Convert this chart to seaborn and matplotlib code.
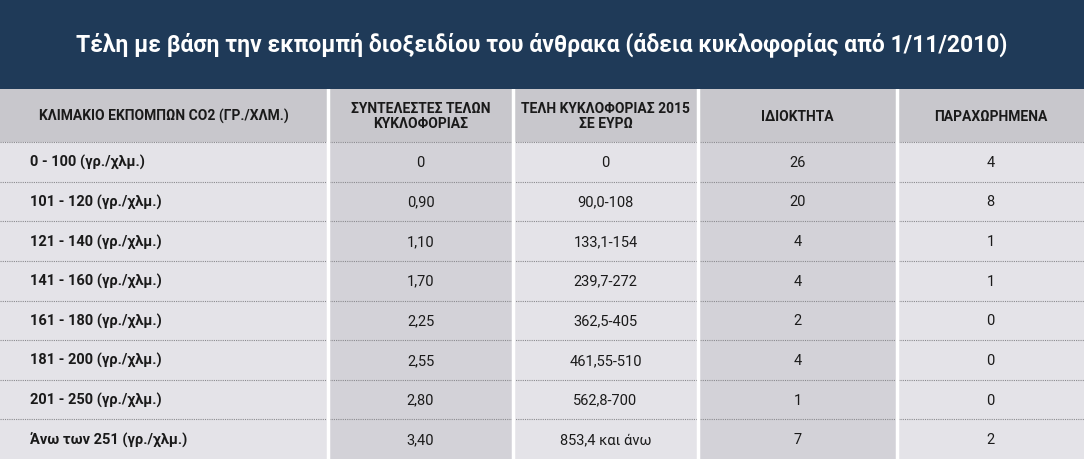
import numpy as np
import pandas as pd
import matplotlib
matplotlib.use("Agg")
import matplotlib.pyplot as plt
from matplotlib.colors import ListedColormap
import seaborn as sns

TITLE = "Τέλη με βάση την εκπομπή διοξειδίου του άνθρακα (άδεια κυκλοφορίας από 1/11/2010)"
HEADERS = ["ΚΛΙΜΑΚΙΟ ΕΚΠΟΜΠΩΝ CO2 (ΓΡ./ΧΛΜ.)", "ΣΥΝΤΕΛΕΣΤΕΣ ΤΕΛΩΝ\nΚΥΚΛΟΦΟΡΙΑΣ",
           "ΤΕΛΗ ΚΥΚΛΟΦΟΡΙΑΣ 2015\nΣΕ ΕΥΡΩ", "ΙΔΙΟΚΤΗΤΑ", "ΠΑΡΑΧΩΡΗΜΕΝΑ"]
bands = ["0 - 100 (γρ./χλμ.)", "101 - 120 (γρ./χλμ.)", "121 - 140 (γρ./χλμ.)",
         "141 - 160 (γρ./χλμ.)", "161 - 180 (γρ./χλμ.)", "181 - 200 (γρ./χλμ.)",
         "201 - 250 (γρ./χλμ.)", "Άνω των 251 (γρ./χλμ.)"]
rates = ["0", "0,90", "1,10", "1,70", "2,25", "2,55", "2,80", "3,40"]
fees = ["0", "90,0-108", "133,1-154", "239,7-272", "362,5-405", "461,55-510",
        "562,8-700", "853,4 και άνω"]
owned = [26, 20, 4, 4, 2, 4, 1, 7]
leased = [4, 8, 1, 1, 0, 0, 0, 2]

plt.rcParams["font.family"] = "Roboto"

fig = plt.figure(figsize=(10.84, 4.6), dpi=100)
fig.patch.set_facecolor("#1f3a58")

# title band
fig.text(0.5, 1 - 45 / 460, TITLE, ha="center", va="center", color="white",
         fontsize=16.5, fontweight="bold", fontstretch="condensed")

col_edges = [0, 328, 513, 698, 897, 1084]
widths = np.diff(col_edges)
ax = fig.add_axes([0, 0, 1, 1 - 90 / 460])

# shading matrix: 0 header, 1 light column, 2 dark column
n_rows = len(bands) + 1
shade = np.zeros((n_rows, len(HEADERS)))
for j in range(len(HEADERS)):
    shade[1:, j] = 2 if j in (1, 3) else 1
rep = pd.DataFrame(np.repeat(shade, widths, axis=1))
row_h = [53] + [39.6] * len(bands)
rep = rep.loc[np.repeat(np.arange(n_rows), [int(round(h * 10)) for h in row_h])]
sns.heatmap(rep, ax=ax, cmap=ListedColormap(["#c8c7cc", "#e4e3e8", "#d3d2d8"]),
            cbar=False, xticklabels=False, yticklabels=False, vmin=-0.5, vmax=2.5)
ax.set_xlim(0, 1084)
H = len(rep)
ax.set_ylim(H, 0)

y_edges = np.concatenate([[0], np.cumsum([int(round(h * 10)) for h in row_h])])
for y in y_edges[1:-1]:
    ax.axhline(y, color="#8a8a8e", lw=0.8, ls=(0, (1, 1)))
for x in col_edges[1:-1]:
    ax.axvline(x, color="white", lw=2.5)

centers = [(col_edges[j] + col_edges[j + 1]) / 2 for j in range(5)]
yc = (y_edges[:-1] + y_edges[1:]) / 2
for j, h in enumerate(HEADERS):
    ax.text(centers[j], yc[0], h, ha="center", va="center", fontsize=10,
            fontweight="bold", fontstretch="condensed", color="#1a1a1a", linespacing=1.1)
for i in range(len(bands)):
    y = yc[i + 1]
    ax.text(30, y, bands[i], ha="left", va="center", fontsize=10.5,
            fontweight="bold", color="#1a1a1a")
    vals = [rates[i], fees[i], str(owned[i]), str(leased[i])]
    for j, v in enumerate(vals):
        ax.text(centers[j + 1], y, v, ha="center", va="center", fontsize=10.5,
                color="#1a1a1a")

fig.savefig("out.png", dpi=100, facecolor=fig.get_facecolor())
